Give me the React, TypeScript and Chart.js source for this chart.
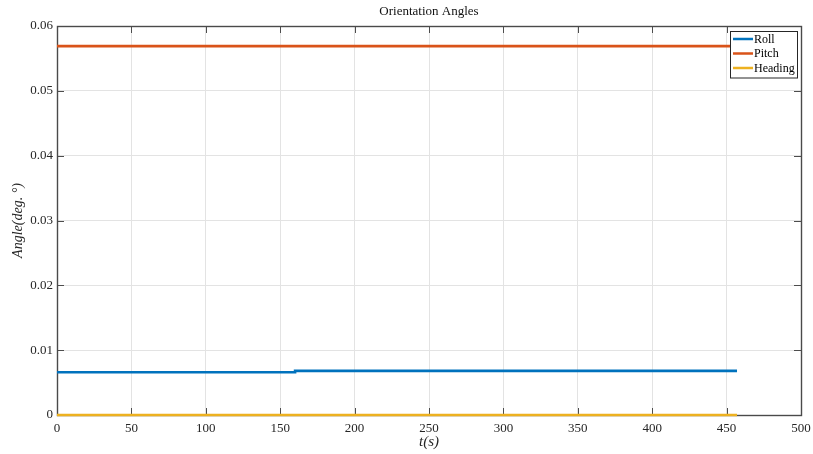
import React, { useEffect, useRef } from "react";
import { Chart, registerables } from "chart.js";

Chart.register(...registerables);

const chartTitle = "Orientation Angles";
const xLabel = "t(s)";
const yLabel = "Angle(deg. °)";
const time = [0, 160, 457];
const roll = [0.0066, 0.0068, 0.0068];
const pitch = [0.0569, 0.0569, 0.0569];
const heading = [0, 0, 0];
const seriesNames = ["Roll", "Pitch", "Heading"];
const seriesColors = ["#0072BD", "#D95319", "#EDB120"];
const xTicks = [0, 50, 100, 150, 200, 250, 300, 350, 400, 450, 500];
const yTicks = [0, 0.01, 0.02, 0.03, 0.04, 0.05, 0.06];

const FONT = "'Liberation Serif', 'Times New Roman', serif";
const TXT = "#262626";

const framePlugin = {
  id: "frame",
  beforeDatasetsDraw(chart: any) {
    const ctx = chart.ctx;
    const { left, right, top, bottom } = chart.chartArea;
    const xs = chart.scales.x;
    const ys = chart.scales.y;
    ctx.save();
    ctx.strokeStyle = "#4d4d4d";
    ctx.lineWidth = 1;
    const tl = 7;
    ctx.beginPath();
    xTicks.forEach((v) => {
      const px = Math.round(xs.getPixelForValue(v)) + 0.5;
      ctx.moveTo(px, bottom);
      ctx.lineTo(px, bottom - tl);
      ctx.moveTo(px, top);
      ctx.lineTo(px, top + tl);
    });
    yTicks.forEach((v) => {
      const py = Math.round(ys.getPixelForValue(v)) + 0.5;
      ctx.moveTo(left, py);
      ctx.lineTo(left + tl, py);
      ctx.moveTo(right, py);
      ctx.lineTo(right - tl, py);
    });
    ctx.stroke();
    ctx.strokeStyle = "#4a4a4a";
    ctx.lineWidth = 1.4;
    ctx.strokeRect(Math.round(left) + 0.5, Math.round(top) + 0.5, Math.round(right - left), Math.round(bottom - top));
    ctx.restore();
  },
  afterDraw(chart: any) {
    const ctx = chart.ctx;
    const { left, right, top, bottom } = chart.chartArea;
    ctx.save();
    ctx.fillStyle = "#111";
    ctx.font = `13px ${FONT}`;
    ctx.textAlign = "center";
    ctx.textBaseline = "middle";
    ctx.fillText(chartTitle, (left + right) / 2, top - 14);
    ctx.font = `italic 15px ${FONT}`;
    ctx.fillStyle = TXT;
    ctx.fillText(xLabel, (left + right) / 2, bottom + 27);
    ctx.save();
    ctx.font = `italic 14px ${FONT}`;
    ctx.translate(left - 39, (top + bottom) / 2);
    ctx.rotate(-Math.PI / 2);
    ctx.fillText(yLabel, 0, 0);
    ctx.restore();
    const ds = chart.data.datasets;
    const bx = right - 71;
    const by = top + 5;
    const bw = 67;
    const rowH = 14.5;
    const bh = ds.length * rowH + 3;
    ctx.fillStyle = "#fff";
    ctx.fillRect(bx, by, bw, bh);
    ctx.strokeStyle = "#262626";
    ctx.lineWidth = 1;
    ctx.strokeRect(Math.round(bx) + 0.5, Math.round(by) + 0.5, bw, bh);
    ctx.font = `12px ${FONT}`;
    ctx.textAlign = "left";
    ds.forEach((d: any, i: number) => {
      const cy = by + 8 + i * rowH;
      ctx.strokeStyle = d.borderColor;
      ctx.lineWidth = 2.5;
      ctx.beginPath();
      ctx.moveTo(bx + 3, cy);
      ctx.lineTo(bx + 23, cy);
      ctx.stroke();
      ctx.fillStyle = "#000";
      ctx.fillText(d.label, bx + 24, cy + 0.5);
    });
    ctx.restore();
  },
};

export default function App() {
  const ref = useRef<HTMLCanvasElement>(null);
  useEffect(() => {
    document.body.style.margin = "0";
    const series = [roll, pitch, heading];
    const chart = new Chart(ref.current!, {
      type: "line",
      data: {
        datasets: series.map((s, i) => ({
          label: seriesNames[i],
          data: time.map((t, j) => ({ x: t, y: s[j] })),
          borderColor: seriesColors[i],
          backgroundColor: seriesColors[i],
          borderWidth: 2.6,
          pointRadius: 0,
          stepped: true,
          fill: false,
          clip: false,
        })),
      },
      options: {
        animation: false,
        responsive: false,
        maintainAspectRatio: false,
        layout: { padding: { left: 0, right: 12, top: 26, bottom: 0 } },
        plugins: { legend: { display: false }, title: { display: false }, tooltip: { enabled: false } },
        scales: {
          x: {
            type: "linear",
            min: 0,
            max: 500,
            afterBuildTicks: (s: any) => {
              s.ticks = xTicks.map((v) => ({ value: v }));
            },
            afterFit: (s: any) => {
              s.height = 39;
              s.paddingLeft = 0;
              s.paddingRight = 0;
            },
            grid: { color: "#e3e3e3", drawTicks: false },
            border: { display: false },
            ticks: {
              padding: 6,
              color: TXT,
              font: { family: FONT, size: 13 },
              callback: (v: any) => String(v),
            },
          },
          y: {
            min: 0,
            max: 0.06,
            afterBuildTicks: (s: any) => {
              s.ticks = yTicks.map((v) => ({ value: v }));
            },
            afterFit: (s: any) => {
              s.width = 57;
              s.paddingTop = 0;
              s.paddingBottom = 0;
            },
            grid: { color: "#e3e3e3", drawTicks: false },
            border: { display: false },
            ticks: {
              padding: 4,
              color: TXT,
              font: { family: FONT, size: 13 },
              callback: (v: any) => (v === 0 ? "0" : Number(v).toFixed(2)),
            },
          },
        },
      },
      plugins: [framePlugin],
    });
    return () => chart.destroy();
  }, []);
  return (
    <div style={{ position: "absolute", left: 0, top: 0, width: 813, height: 454, background: "#fff" }}>
      <canvas ref={ref} width={813} height={454} style={{ display: "block" }} />
    </div>
  );
}
